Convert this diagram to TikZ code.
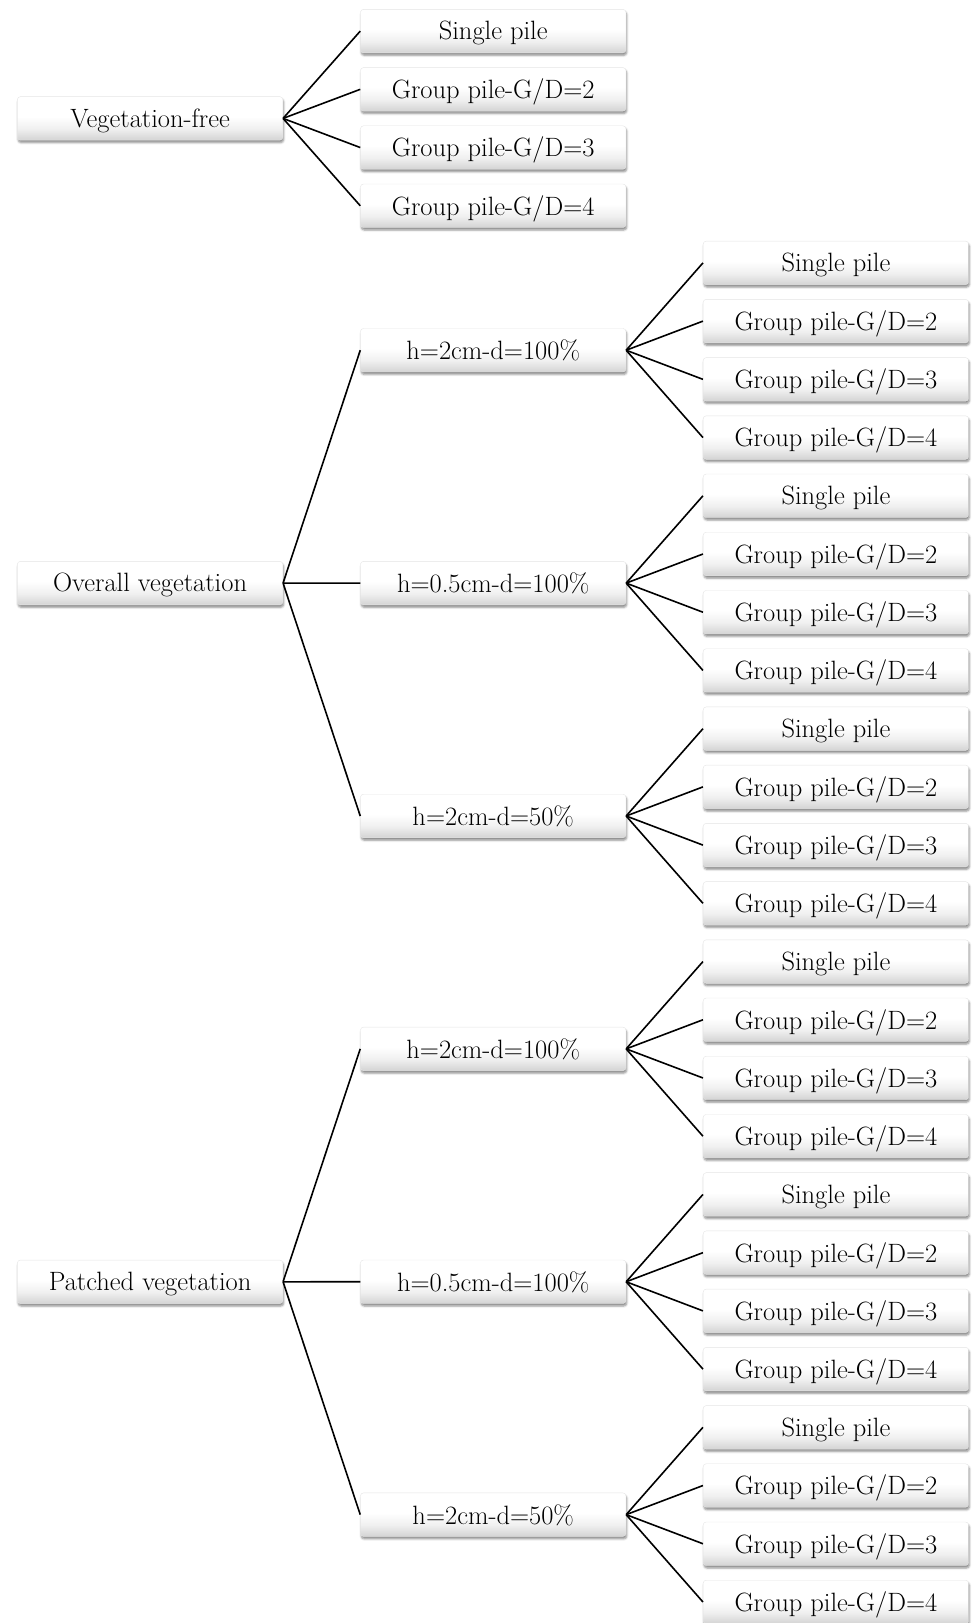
\documentclass[tikz,border=0pt]{standalone}
\usetikzlibrary{shadows.blur}
\pgfdeclareverticalshading{boxshade}{100bp}{color(0bp)=(black!17); color(25bp)=(black!17); color(38bp)=(black!6); color(52bp)=(white); color(100bp)=(white)}
\newcommand\kidlabel[1]{\ifcase#1\or Single pile\or Group pile-G/D=2\or Group pile-G/D=3\or Group pile-G/D=4\fi}
\begin{document}
\begin{tikzpicture}[x=1pt,y=-1pt,
  box/.style={rounded corners=3pt, minimum width=265.5pt, minimum height=43.5pt, inner sep=0pt,
    shading=boxshade, draw=black!10, line width=0.4pt,
    blur shadow={shadow xshift=0.8pt, shadow yshift=-2.5pt, shadow blur radius=2pt, shadow opacity=45},
    font=\fontsize{26.5}{30}\selectfont, text depth=0.25ex},
  link/.style={line width=1.6pt, black}]
\useasboundingbox (0,0) rectangle (973,1623);

% Vegetation-free
\node[box] (vf) at (150.1,118.4) {Vegetation-free};
\foreach \n in {1,...,4} {
  \node[box] (vf-\n) at (493.2,{31.1+58.22*(\n-1)}) {\kidlabel{\n}};
  \draw[link] (vf.east) -- (vf-\n.west);
}

% Overall and patched
\node[box] (ov) at (150.1,583.1) {Overall vegetation};
\node[box] (pv) at (150.1,1281.8) {Patched vegetation};
\foreach \p/\g in {ov/0, pv/3} {
  \foreach \m/\lab in {1/{h=2cm-d=100\%}, 2/{h=0.5cm-d=100\%}, 3/{h=2cm-d=50\%}} {
    \pgfmathsetmacro\gy{262.9+87.33+232.88*(\g+\m-1)}
    \node[box] (\p-\m) at (493.2,\gy) {\lab};
    \draw[link] (\p.east) -- (\p-\m.west);
    \foreach \n in {1,...,4} {
      \node[box] (\p-\m-\n) at (835.9,{\gy-87.33+58.22*(\n-1)}) {\kidlabel{\n}};
      \draw[link] (\p-\m.east) -- (\p-\m-\n.west);
    }
  }
}
\end{tikzpicture}
\end{document}
